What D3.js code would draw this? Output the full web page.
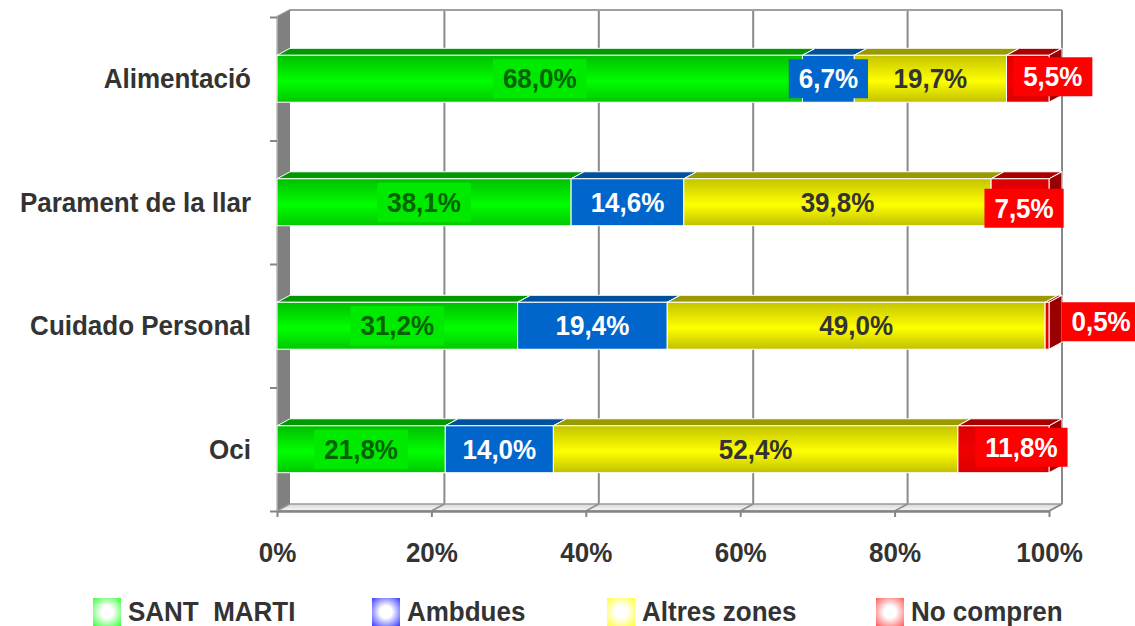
<!DOCTYPE html>
<html>
<head>
<meta charset="utf-8">
<script src="https://cdn.jsdelivr.net/npm/d3@7/dist/d3.min.js"></script>
<style>
  html, body { margin: 0; padding: 0; background: #fff; }
  svg { display: block; }
  text { font-family: "Liberation Sans", Arial, sans-serif; font-weight: bold; }
</style>
</head>
<body>
<svg id="chart" width="1135" height="626"></svg>
<script>
// ---- data -------------------------------------------------------------
const categories = ["Alimentació", "Parament de la llar", "Cuidado Personal", "Oci"];
const seriesNames = ["SANT  MARTI", "Ambdues", "Altres zones", "No compren"];
const santMarti   = [68.0, 38.1, 31.2, 21.8];
const ambdues     = [6.7, 14.6, 19.4, 14.0];
const altresZones = [19.7, 39.8, 49.0, 52.4];
const noCompren   = [5.5, 7.5, 0.5, 11.8];
const xTicks = [0, 0.2, 0.4, 0.6, 0.8, 1];

// ---- layout -----------------------------------------------------------
const X0 = 277, X1 = 1049;      // front edge of the plot
const Y0 = 17, Y1 = 511;        // front top / floor
const DX = 13, DY = -7;         // 3-D depth offset
const barFrac = 0.38;           // bar thickness as share of a category slot
const FS = 26;                  // font size
const STRETCH = 1.07;           // slight vertical stretch of the lettering

// per-series styling
const styles = [
  { front: ["#00bf00", "#00ff00", "#00c800"], top: "#009900", side: "#007700",
    box: "#00ea00", text: "#006400", legend: "#33ff33" },
  { front: ["#0066cc", "#0066cc", "#0066cc"], top: "#00509c", side: "#003c78",
    box: "#0066cc", text: "#ffffff", legend: "#3333ff" },
  { front: ["#c4c400", "#ffff00", "#c0c000"], top: "#999900", side: "#777700",
    box: "none", text: "#333333", legend: "#ffff33" },
  { front: ["#dc0000", "#f00000", "#dc0000"], top: "#aa0000", side: "#990000",
    box: "#ff0000", text: "#ffffff", legend: "#ff5555" }
];
// hand-placed offsets for the "No compren" value labels
const lastLabelShift = [[25, -2], [4, 6], [54, -4], [18, -2]];
const legendX = [93, 372, 607, 876];

// ---- scales -----------------------------------------------------------
const x = d3.scaleLinear().domain([0, 1]).range([X0, X1]);
const y = d3.scaleBand().domain(categories).range([Y0, Y1]).padding(0);
const slot = d3.scaleLinear().domain([0, categories.length]).range([Y0, Y1]);

const rows = categories.map((c, i) => ({
  cat: c, s0: santMarti[i], s1: ambdues[i], s2: altresZones[i], s3: noCompren[i]
}));
const keys = ["s0", "s1", "s2", "s3"];
const stacked = d3.stack().keys(keys).offset(d3.stackOffsetExpand)(rows);

const fmt = v => v.toFixed(1).replace(".", ",") + "%";
const stretch = (sel, base) =>
  sel.attr("transform", `translate(0,${base}) scale(1,${STRETCH}) translate(0,${-base})`);

const svg = d3.select("#chart");
const defs = svg.append("defs");

styles.forEach((s, i) => {
  const g = defs.append("linearGradient").attr("id", "front" + i)
    .attr("x1", 0).attr("y1", 0).attr("x2", 0).attr("y2", 1);
  g.append("stop").attr("offset", "0%").attr("stop-color", s.front[0]);
  g.append("stop").attr("offset", "55%").attr("stop-color", s.front[1]);
  g.append("stop").attr("offset", "100%").attr("stop-color", s.front[2]);
  const r = defs.append("radialGradient").attr("id", "leg" + i)
    .attr("cx", "50%").attr("cy", "50%").attr("r", "72%");
  r.append("stop").attr("offset", "0%").attr("stop-color", "#ffffff");
  r.append("stop").attr("offset", "30%").attr("stop-color", "#ffffff");
  r.append("stop").attr("offset", "100%").attr("stop-color", s.legend);
});
const fg = defs.append("linearGradient").attr("id", "floor")
  .attr("x1", 0).attr("y1", 0).attr("x2", 0).attr("y2", 1);
fg.append("stop").attr("offset", "0%").attr("stop-color", "#d8d8d8");
fg.append("stop").attr("offset", "100%").attr("stop-color", "#f6f6f6");

const pts = a => a.map(p => p.join(",")).join(" ");

// ---- walls and floor --------------------------------------------------
const walls = svg.append("g");
// back wall gridlines
walls.selectAll("line.grid").data(xTicks.slice(1)).join("line")
  .attr("x1", d => x(d) + DX).attr("x2", d => x(d) + DX)
  .attr("y1", Y0 + DY).attr("y2", Y1 + DY)
  .attr("stroke", "#8a8a8a").attr("stroke-width", 2);
// top edge of back wall
walls.append("polyline")
  .attr("points", pts([[X0, Y0], [X0 + DX, Y0 + DY], [X1 + DX, Y0 + DY]]))
  .attr("fill", "none").attr("stroke", "#a0a0a0").attr("stroke-width", 2);
// side wall
walls.append("polygon")
  .attr("points", pts([[X0, Y0], [X0 + DX, Y0 + DY], [X0 + DX, Y1 + DY], [X0, Y1]]))
  .attr("fill", "#808080");
// floor
walls.append("polygon")
  .attr("points", pts([[X0, Y1], [X0 + DX, Y1 + DY], [X1 + DX, Y1 + DY], [X1, Y1]]))
  .attr("fill", "url(#floor)").attr("stroke", "#9a9a9a").attr("stroke-width", 1.5);
walls.selectAll("line.fl").data(xTicks.slice(1)).join("line")
  .attr("x1", d => x(d)).attr("y1", Y1)
  .attr("x2", d => x(d) + DX).attr("y2", Y1 + DY)
  .attr("stroke", "#8a8a8a").attr("stroke-width", 1.5);
// left axis line
walls.append("line").attr("x1", X0).attr("x2", X0).attr("y1", Y0).attr("y2", Y1)
  .attr("stroke", "#b8b8b8").attr("stroke-width", 1.5);

// ---- axes -------------------------------------------------------------
const xAxis = svg.append("g").attr("transform", `translate(0,${Y1})`)
  .call(d3.axisBottom(x).tickValues(xTicks).tickFormat(d3.format(".0%"))
    .tickSize(6).tickSizeOuter(0));
xAxis.select(".domain").attr("stroke", "#858585").attr("stroke-width", 2.5);
xAxis.selectAll(".tick line").attr("stroke", "#858585").attr("stroke-width", 2);
xAxis.selectAll(".tick text").attr("y", 51).attr("dy", 0)
  .attr("fill", "#333").style("font-size", FS + "px").style("font-weight", "bold")
  .style("font-family", '"Liberation Sans", Arial, sans-serif')
  .call(stretch, 51);

// category boundary ticks on the left
const yTickAxis = svg.append("g").attr("transform", `translate(${X0},0)`)
  .call(d3.axisLeft(slot).tickValues(d3.range(categories.length + 1))
    .tickSize(7).tickFormat(""));
yTickAxis.select(".domain").remove();
yTickAxis.selectAll(".tick line").attr("stroke", "#858585").attr("stroke-width", 2);

// category names
const yAxis = svg.append("g").attr("transform", `translate(${X0},0)`)
  .call(d3.axisLeft(y).tickSize(0).tickPadding(26));
yAxis.select(".domain").remove();
yAxis.selectAll(".tick text").attr("y", 9.5).attr("dy", 0)
  .attr("fill", "#333").style("font-size", FS + "px").style("font-weight", "bold")
  .style("font-family", '"Liberation Sans", Arial, sans-serif')
  .call(stretch, 9.5);

// ---- 3-D stacked bars -------------------------------------------------
const barH = y.bandwidth() * barFrac;
const bars = svg.append("g");
categories.forEach((c, ci) => {
  const cy = y(c) + y.bandwidth() / 2;
  const top = cy - barH / 2, bot = cy + barH / 2;
  stacked.forEach((layer, si) => {
    const d = layer[ci];
    const xa = x(d[0]), xb = x(d[1]);
    const g = bars.append("g");
    g.append("polygon")
      .attr("points", pts([[xa, top], [xa + DX, top + DY], [xb + DX, top + DY], [xb, top]]))
      .attr("fill", styles[si].top).attr("stroke", "#fff").attr("stroke-width", 1);
    g.append("polygon")
      .attr("points", pts([[xb, top], [xb + DX, top + DY], [xb + DX, bot + DY], [xb, bot]]))
      .attr("fill", styles[si].side).attr("stroke", "#fff").attr("stroke-width", 1);
    g.append("rect")
      .attr("x", xa).attr("y", top).attr("width", Math.max(0, xb - xa)).attr("height", barH)
      .attr("fill", `url(#front${si})`).attr("stroke", "#fff").attr("stroke-width", 1);
  });
});

// ---- value labels -----------------------------------------------------
const values = [santMarti, ambdues, altresZones, noCompren];
const labels = svg.append("g");
categories.forEach((c, ci) => {
  const cy = y(c) + y.bandwidth() / 2;
  stacked.forEach((layer, si) => {
    const d = layer[ci];
    let cx = x((d[0] + d[1]) / 2), ly = cy;
    if (si === stacked.length - 1) {
      cx += lastLabelShift[ci][0];
      ly += lastLabelShift[ci][1];
    }
    const g = labels.append("g");
    const rect = g.append("rect").attr("fill", styles[si].box);
    const t = g.append("text")
      .attr("x", cx).attr("y", ly + 9.5).attr("text-anchor", "middle")
      .attr("fill", styles[si].text).style("font-size", FS + "px")
      .text(fmt(values[si][ci]))
      .call(stretch, ly + 9.5);
    const w = t.node().getComputedTextLength() + 20;
    rect.attr("x", cx - w / 2).attr("y", ly - 19.5).attr("width", w).attr("height", 39);
  });
});

// ---- legend -----------------------------------------------------------
const legend = svg.append("g");
seriesNames.forEach((n, i) => {
  legend.append("rect").attr("x", legendX[i]).attr("y", 598)
    .attr("width", 28).attr("height", 28).attr("fill", `url(#leg${i})`);
  legend.append("text").attr("x", legendX[i] + 35).attr("y", 621)
    .attr("fill", "#333").style("font-size", FS + "px")
    .style("white-space", "pre").attr("xml:space", "preserve")
    .text(n)
    .call(stretch, 621);
});
</script>
</body>
</html>
